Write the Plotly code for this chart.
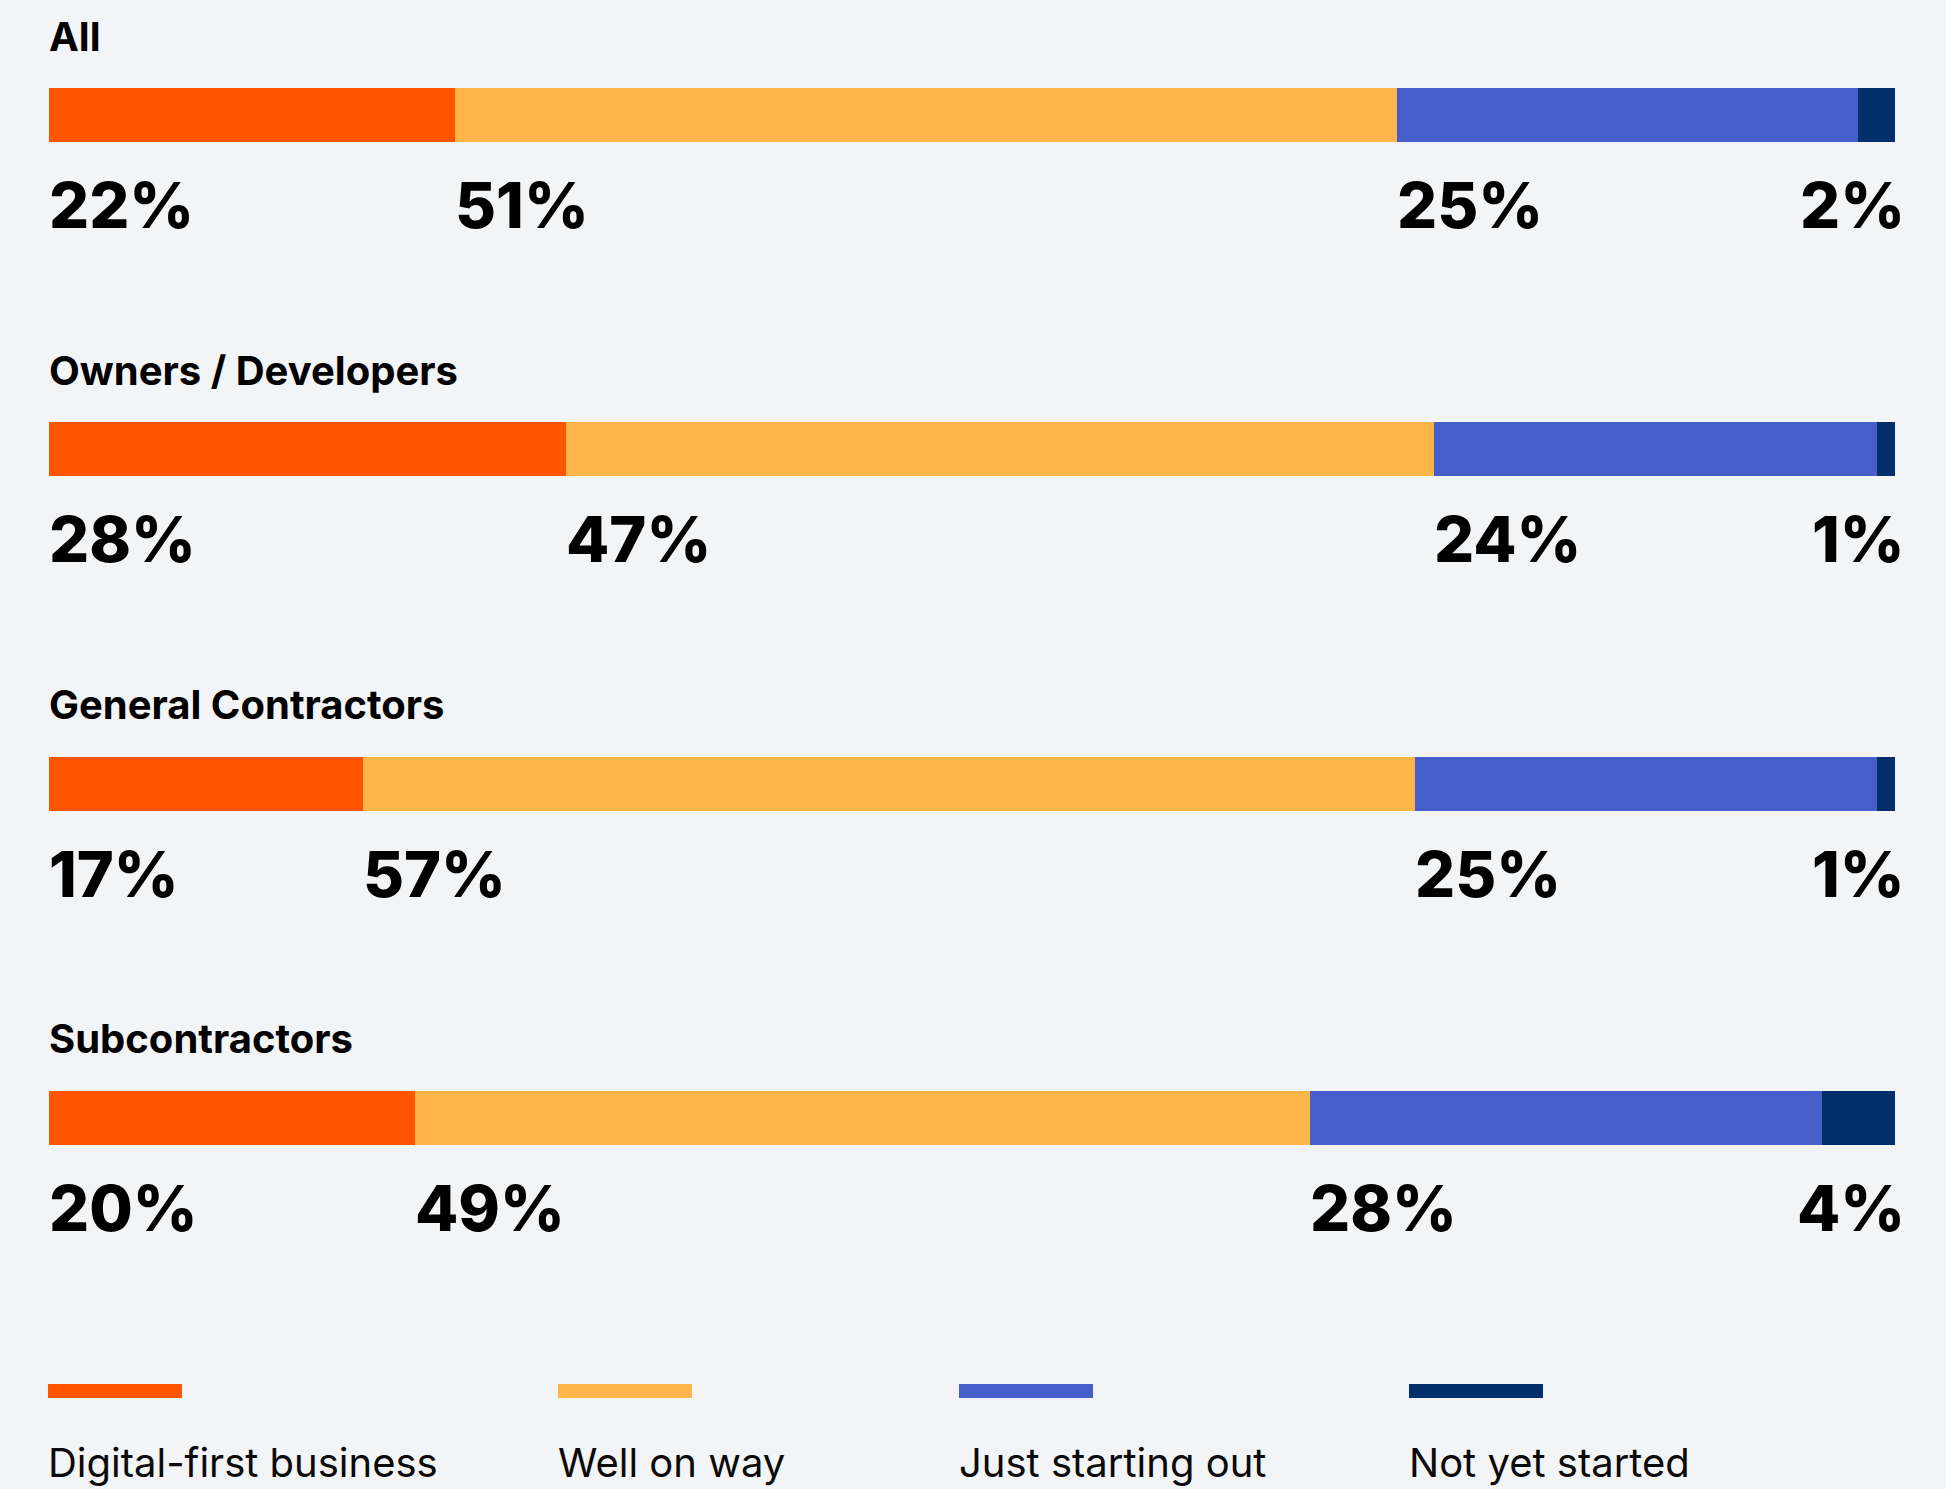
import numpy as np
import plotly.graph_objects as go

# Survey groups (top to bottom) and the four digital-maturity stages
groups = ["All", "Owners / Developers", "General Contractors", "Subcontractors"]
stages = ["Digital-first business", "Well on way", "Just starting out", "Not yet started"]
colors = ["#ff5400", "#ffb549", "#455ec9", "#03306d"]

# Share of respondents (%) per stage, one list per stage in group order
digital_first = [22, 28, 17, 20]
well_on_way = [51, 47, 57, 49]
just_starting = [25, 24, 25, 28]
not_started = [2, 1, 1, 4]
series = [digital_first, well_on_way, just_starting, not_started]

W, H = 1946, 1489
ML, MR = 49, 51
BG = "#f3f4f6"
FONT = "Inter"

fig = go.Figure()
for name, vals, col in zip(stages, series, colors):
    fig.add_trace(go.Bar(
        y=groups, x=vals, name=name, orientation="h",
        marker=dict(color=col, line=dict(width=0)),
        width=0.1615, showlegend=False, hoverinfo="x+name",
    ))

annotations = []
vals = np.array(series, dtype=float)          # stages x groups
totals = vals.sum(axis=0)
starts = (np.cumsum(vals, axis=0) - vals) / totals * 100.0

for g, grp in enumerate(groups):
    # group heading above each bar
    annotations.append(dict(
        x=0, xref="x", y=grp, yref="y", xanchor="left", yanchor="middle",
        xshift=-2, yshift=79, text=f"<b>{grp}</b>", showarrow=False,
        font=dict(family=FONT, size=40, color="#000000", weight=700),
    ))
    # percentage labels: at segment start, last one flush with bar end
    for s in range(len(stages)):
        last = s == len(stages) - 1
        annotations.append(dict(
            x=100 if last else starts[s, g], xref="x", y=grp, yref="y",
            xanchor="right" if last else "left", yanchor="middle",
            xshift=12 if last else -2, yshift=-90,
            text=f"{int(series[s][g])}%", showarrow=False,
            font=dict(family=FONT, size=63, color="#000000", weight=800),
        ))

# Custom legend: swatch above each stage name
def px_x(px):
    return (px - ML) / (W - ML - MR)

def px_y(py):
    return 1 - py / H

shapes = []
legend_x = [48, 558, 959, 1409]
for lx, name, col in zip(legend_x, stages, colors):
    shapes.append(dict(
        type="rect", xref="paper", yref="paper",
        x0=px_x(lx), x1=px_x(lx + 134), y0=px_y(1398), y1=px_y(1384),
        fillcolor=col, line=dict(width=0),
    ))
    annotations.append(dict(
        x=px_x(lx), xref="paper", y=px_y(1462), yref="paper",
        xanchor="left", yanchor="middle", xshift=-2, text=name, showarrow=False,
        font=dict(family=FONT, size=40, color="#0a0a0a"),
    ))

fig.update_layout(
    width=W, height=H,
    margin=dict(l=ML, r=MR, t=0, b=0),
    paper_bgcolor=BG, plot_bgcolor=BG,
    barmode="stack", barnorm="percent",
    xaxis=dict(range=[0, 100], visible=False, fixedrange=True),
    yaxis=dict(type="category", categoryorder="array", categoryarray=groups,
               range=[4.110, -0.344], visible=False, fixedrange=True),
    annotations=annotations, shapes=shapes,
    font=dict(family=FONT),
)

fig.write_html("out.html")
